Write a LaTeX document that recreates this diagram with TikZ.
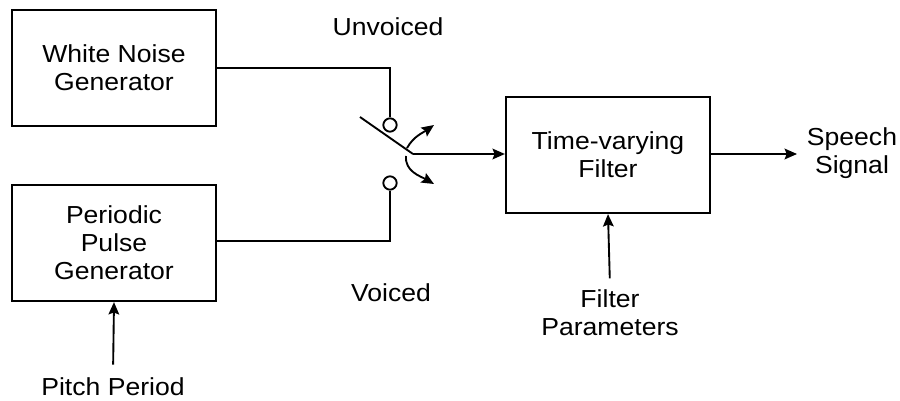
\documentclass[tikz,border=0pt]{standalone}
\usepackage{fontspec}
\setmainfont{Liberation Sans}[FakeStretch=1.08]
\usetikzlibrary{arrows.meta,positioning,calc}

\begin{document}
\begin{tikzpicture}[x=0.03cm,y=-0.03cm,font=\fontsize{21}{24}\selectfont,
  line width=1.6pt,
  block/.style={draw,line width=1.9pt,minimum width=6.12cm,minimum height=3.48cm,align=center},
  lbl/.style={align=center,inner sep=2pt},
  arr/.style={-{Stealth[length=0.37cm,width=0.32cm,inset=0.06cm]}},
  term/.style={circle,draw,minimum size=0.4cm,inner sep=0pt}]
\useasboundingbox (0,0) rectangle (900,401);
% blocks
\node[block] (noise) at (114,68) {White Noise\\Generator};
\node[block] (pulse) at (114,243) {Periodic\\Pulse\\Generator};
\node[block] (filter) at (608,155) {Time-varying\\Filter};
% labels
\node[lbl] (unv) at (388,27) {Unvoiced};
\node[lbl] (voi) at (391,293) {Voiced};
\node[lbl] (pitch) at (113,387) {Pitch Period};
\node[lbl] (fpar) at (610,313) {Filter\\Parameters};
\node[lbl] (speech) at (852,153) {Speech\\Signal};
% switch
\node[term] (upT) at (390,125) {};
\node[term] (loT) at (390,183) {};
\coordinate (bladeEnd) at (360,117);
\coordinate (pivot) at (413,154);
\draw (noise.east) -| (upT.north);
\draw (pulse.east |- 0,241) -| (loT.south);
\draw (bladeEnd) -- (pivot);
\draw[arr] (pivot) -- (filter.west |- pivot);
\draw[arr] (407,148) to[out=60,in=215] (434,125);
\draw[arr] (406,156) to[out=-95,in=150] (434,184);
% outputs and inputs
\draw[arr] (filter.east |- pivot) -- (797,154);
\draw[arr,shorten <=0.3cm] (pitch.north) -- (pulse.south);
\draw[arr,shorten <=0.25cm] (fpar.north) -- (filter.south);
\end{tikzpicture}
\end{document}
